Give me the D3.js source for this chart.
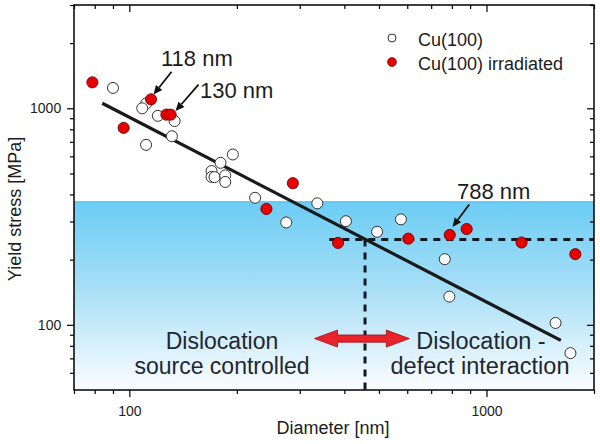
<!DOCTYPE html>
<html><head><meta charset="utf-8">
<script src="https://cdn.jsdelivr.net/npm/d3@7"></script>
<style>
body{margin:0;background:#fff;}
svg{display:block;font-family:"Liberation Sans",Arial,sans-serif;}
</style></head>
<body><svg id="c" width="600" height="444"></svg>
<script>
// ---- data ----
const cuDiameter = [90,111.6,108.7,120.2,133.9,131.6,111.4,194.9,180,169.9,169.9,173.2,185.6,185.6,225,275,336,404,494,576,764,787,1561,1718];
const cuStress   = [1242,1054,1000,923,873,743,678,612,560,513,482,481,490,457,386,297,364,301,269,307,201,135,102,74];
const irrDiameter = [78.8,115,127,130.5,96.4,287,242,384,604,789,880,1254,1773];
const irrStress   = [1318,1100,935,935,812,451,343,239,250,260,277,240,212];
const fitDiameter = [84,1615];
const fitStress = [1055,84.7];
const plateauStress = 247.5;     // horizontal dashed line
const plateauStart = 363;        // nm
const transitionDiameter = 457;  // vertical dashed line
const shadeTop = 370;            // MPa, top of shaded region
const xMajorTicks = [100,1000];
const xMinorTicks = [70,80,90,200,300,400,500,600,700,800,900,2000];
const yMajorTicks = [100,1000];
const yMinorTicks = [60,70,80,90,200,300,400,500,600,700,800,900,2000,3000];
const legendLabels = ["Cu(100)","Cu(100) irradiated"];
const annotations = [
  {text:"118 nm", tail:[131.3,1476], head:[116.9,1157]},
  {text:"130 nm", tail:[156.2,1286], head:[134.7,971]},
  {text:"788 nm", tail:[894.6,359.8], head:[803.5,282.8]}
];

// ---- layout ----
const L=74, R=594, T=5, B=390;
const x = d3.scaleLog().domain([70,2000]).range([L,R]);
const y = d3.scaleLog().domain([50,3000]).range([B,T]);
const svg = d3.select("#c");
const defs = svg.append("defs");
const g = defs.append("linearGradient").attr("id","blue").attr("x1",0).attr("x2",0).attr("y1",0).attr("y2",1);
g.append("stop").attr("offset","0%").attr("stop-color","#6ccdf4");
g.append("stop").attr("offset","45%").attr("stop-color","#a6def6");
g.append("stop").attr("offset","100%").attr("stop-color","#fbfdff");

svg.append("rect").attr("x",L).attr("y",y(shadeTop)).attr("width",R-L).attr("height",B-y(shadeTop)).attr("fill","url(#blue)");
svg.append("line").attr("x1",L).attr("x2",R).attr("y1",y(shadeTop)).attr("y2",y(shadeTop)).attr("stroke","#56b4dc").attr("stroke-width",1);

// dashed lines
svg.append("line").attr("x1",x(plateauStart)).attr("x2",R).attr("y1",y(plateauStress)).attr("y2",y(plateauStress))
  .attr("stroke","#111a22").attr("stroke-width",3).attr("stroke-dasharray","7,6");
svg.append("line").attr("x1",x(transitionDiameter)).attr("x2",x(transitionDiameter)).attr("y1",y(plateauStress)).attr("y2",B)
  .attr("stroke","#111a22").attr("stroke-width",3).attr("stroke-dasharray","7,6");

// fit line
svg.append("line").attr("x1",x(fitDiameter[0])).attr("y1",y(fitStress[0])).attr("x2",x(fitDiameter[1])).attr("y2",y(fitStress[1]))
  .attr("stroke","#1a1a1a").attr("stroke-width",3.2);

// axes
function drawAxis(axisGen, transform, ticks, len, fmt){
  const a = svg.append("g").attr("transform",transform).call(axisGen.tickValues(ticks).tickSize(len).tickFormat(fmt));
  a.select(".domain").remove();
  a.selectAll("line").attr("stroke","#000").attr("stroke-width",1.2);
  a.selectAll("text").attr("font-size",14).attr("fill","#222").attr("font-family","Liberation Sans, Arial, sans-serif");
  return a;
}
const fmt = d=>d3.format("d")(d);
drawAxis(d3.axisBottom(x),`translate(0,${B})`,xMajorTicks,7,fmt).selectAll("text").attr("dy","1.15em");
drawAxis(d3.axisBottom(x),`translate(0,${B})`,xMinorTicks,4,()=>"");
drawAxis(d3.axisLeft(y),`translate(${L},0)`,yMajorTicks,7,fmt).selectAll("text").attr("dx","-0.2em");
drawAxis(d3.axisLeft(y),`translate(${L},0)`,yMinorTicks,4,()=>"");
drawAxis(d3.axisBottom(x),`translate(0,${T})`,xMajorTicks,7,()=>"");
drawAxis(d3.axisBottom(x),`translate(0,${T})`,xMinorTicks,4,()=>"");
drawAxis(d3.axisLeft(y),`translate(${R},0)`,yMajorTicks,7,()=>"");
drawAxis(d3.axisLeft(y),`translate(${R},0)`,yMinorTicks,4,()=>"");
svg.append("rect").attr("x",L).attr("y",T).attr("width",R-L).attr("height",B-T).attr("fill","none").attr("stroke","#000").attr("stroke-width",1.5);

// points
svg.append("g").selectAll("circle").data(cuDiameter).join("circle")
  .attr("cx",d=>x(d)).attr("cy",(d,i)=>y(cuStress[i])).attr("r",5.5)
  .attr("fill","#fff").attr("stroke","#333").attr("stroke-width",1);
svg.append("g").selectAll("circle").data(irrDiameter).join("circle")
  .attr("cx",d=>x(d)).attr("cy",(d,i)=>y(irrStress[i])).attr("r",5.6)
  .attr("fill","#e60000").attr("stroke","#5a0000").attr("stroke-width",0.8);

// annotations
annotations.forEach(a=>{
  const x1=x(a.tail[0]), y1=y(a.tail[1]), x2=x(a.head[0]), y2=y(a.head[1]);
  const ang=Math.atan2(y2-y1,x2-x1), hl=9, hw=4;
  const bx=x2-hl*Math.cos(ang), by=y2-hl*Math.sin(ang);
  svg.append("line").attr("x1",x1).attr("y1",y1).attr("x2",bx).attr("y2",by).attr("stroke","#111").attr("stroke-width",1.8);
  const px=-Math.sin(ang), py=Math.cos(ang);
  svg.append("path").attr("d",`M${x2},${y2}L${bx+hw*px},${by+hw*py}L${bx-hw*px},${by-hw*py}Z`).attr("fill","#111");
});
const annText=[[161,66],[200,98],[457,199]];
annotations.forEach((a,i)=>{
  svg.append("text").attr("x",annText[i][0]).attr("y",annText[i][1]).attr("font-size",22).attr("fill","#1c1c1c").text(a.text);
});

// red double arrow
(function(){
  const xa=x(330), xb=x(608), yc=y(86.4), sh=3.6, hh=8.5, hl=23;
  const d=`M${xa},${yc}L${xa+hl},${yc-hh}L${xa+hl},${yc-sh}L${xb-hl},${yc-sh}L${xb-hl},${yc-hh}L${xb},${yc}L${xb-hl},${yc+hh}L${xb-hl},${yc+sh}L${xa+hl},${yc+sh}L${xa+hl},${yc+hh}Z`;
  svg.append("path").attr("d",d).attr("fill","#e8232b").attr("stroke","#9a1016").attr("stroke-width",0.8);
})();

// region texts
const tc="#1e2732";
svg.append("text").attr("x",222).attr("y",349).attr("text-anchor","middle").attr("font-size",23).attr("fill",tc).text("Dislocation");
svg.append("text").attr("x",222).attr("y",374).attr("text-anchor","middle").attr("font-size",23).attr("fill",tc).text("source controlled");
svg.append("text").attr("x",481).attr("y",349).attr("text-anchor","middle").attr("font-size",23.5).attr("fill",tc).text("Dislocation -");
svg.append("text").attr("x",480).attr("y",374).attr("text-anchor","middle").attr("font-size",23.5).attr("fill",tc).text("defect interaction");

// legend
svg.append("circle").attr("cx",392).attr("cy",38).attr("r",4).attr("fill","#fff").attr("stroke","#333").attr("stroke-width",1);
svg.append("circle").attr("cx",392).attr("cy",62).attr("r",4.5).attr("fill","#e60000").attr("stroke","#5a0000").attr("stroke-width",0.6);
svg.append("text").attr("x",418).attr("y",46).attr("font-size",18).attr("fill","#1c1c1c").text(legendLabels[0]);
svg.append("text").attr("x",418).attr("y",70).attr("font-size",18).attr("fill","#1c1c1c").text(legendLabels[1]);

// axis titles
svg.append("text").attr("x",333).attr("y",434).attr("text-anchor","middle").attr("font-size",18).attr("fill","#1c1c1c").text("Diameter [nm]");
svg.append("text").attr("transform","translate(21,209) rotate(-90)").attr("text-anchor","middle").attr("font-size",18).attr("fill","#1c1c1c").text("Yield stress [MPa]");
</script></body></html>
